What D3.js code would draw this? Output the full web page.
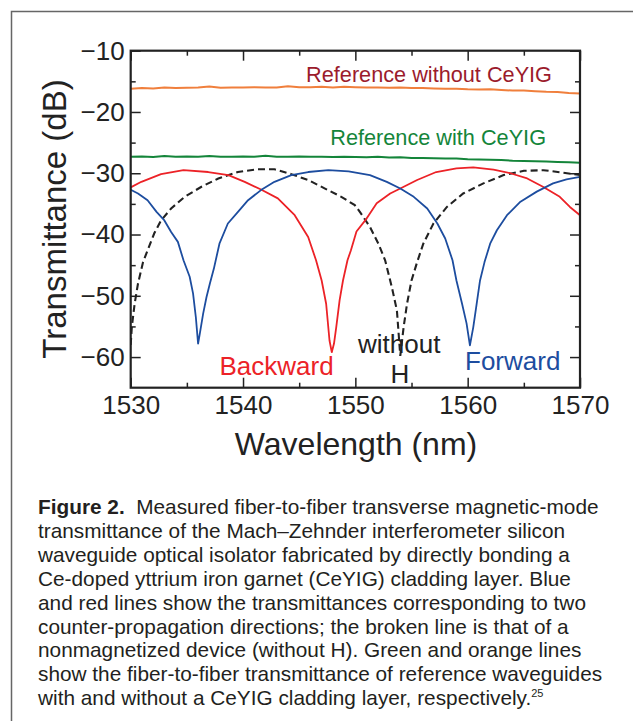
<!DOCTYPE html>
<html>
<head>
<meta charset="utf-8">
<script src="https://cdn.jsdelivr.net/npm/d3@7"></script>
<style>
  body { margin: 0; background: #fff; }
  svg { display: block; font-family: "Liberation Sans", Arial, Helvetica, sans-serif; }
</style>
</head>
<body>
<svg id="chart" width="633" height="721"></svg>
<script>
// reference waveguides, read every 1 nm
var refWl = [1530,1531,1532,1533,1534,1535,1536,1537,1538,1539,1540,1541,1542,1543,1544,1545,1546,1547,1548,1549,
             1550,1551,1552,1553,1554,1555,1556,1557,1558,1559,1560,1561,1562,1563,1564,1565,1566,1567,1568,1569,1570];
var refWithout = [-16.2,-16.1,-16.15,-16.0,-16.1,-16.05,-16.0,-15.85,-16.05,-16.0,-16.0,-15.95,-16.0,-16.0,-15.8,-15.95,
                  -15.95,-15.9,-16.0,-15.9,-15.95,-16.0,-16.0,-16.05,-16.0,-16.1,-16.1,-16.15,-16.2,-16.2,-16.3,-16.35,
                  -16.3,-16.4,-16.5,-16.5,-16.6,-16.7,-16.75,-16.9,-17.0];
var refWith = [-27.3,-27.25,-27.35,-27.2,-27.3,-27.25,-27.3,-27.2,-27.3,-27.3,-27.25,-27.3,-27.15,-27.3,-27.3,-27.25,
               -27.3,-27.3,-27.35,-27.3,-27.35,-27.4,-27.3,-27.45,-27.4,-27.5,-27.5,-27.55,-27.6,-27.6,-27.7,-27.75,
               -27.8,-27.85,-27.95,-28.0,-28.05,-28.1,-28.15,-28.2,-28.3];

// forward (blue)
var fwdWl = [1530,1530.65,1531.5,1532.3,1533,1533.6,1534.2,1534.7,1535.25,1535.55,1535.8,1536,1536.15,1536.45,1536.75,
             1537.05,1537.4,1537.9,1538.65,1539.55,1540.45,1541.6,1542.8,1544.3,1545.8,1547.6,1549.4,1551.3,1552.8,
             1554,1555.2,1556.4,1557.3,1558,1558.65,1559,1559.5,1559.9,1560.2,1560.5,1560.8,1561.1,1561.5,1562,1562.6,
             1563.5,1564.7,1566.15,1567.6,1568.8,1570];
var fwdT = [-32.7,-33.3,-34.4,-36.3,-37.7,-39.6,-41.2,-44.2,-46.9,-49.6,-53.5,-57.8,-56.2,-52.9,-50.2,
            -48.0,-45.6,-41.5,-38.2,-36.3,-34.4,-32.75,-31.4,-30.3,-29.8,-29.5,-29.7,-30.3,-31.4,
            -32.5,-33.85,-35.75,-38.2,-40.65,-44.2,-47.5,-51.3,-54.5,-58.1,-55.1,-51.3,-47.5,-44.5,-41.5,-39.3,
            -36.85,-34.65,-33.0,-31.65,-31.0,-30.6];

// backward (red)
var bwdWl = [1530,1530.95,1532.7,1534.7,1536.9,1538.7,1540.15,1541.6,1543.1,1544.6,1545.8,1546.5,1547,1547.4,1547.7,
             1547.9,1548.1,1548.3,1548.6,1548.9,1549.3,1549.6,1550.1,1551,1551.9,1553.1,1554,1555.5,1557.2,1559,
             1560.5,1562.3,1563.8,1565.3,1566.7,1568.2,1569.1,1570];
var bwdT = [-32.3,-31.4,-30.15,-29.5,-29.8,-30.3,-31.4,-32.65,-34.1,-36.85,-40.4,-44.2,-47.5,-51.3,-57.3,
            -59.2,-57.8,-55.1,-50.7,-47.5,-44.2,-42.6,-39.5,-37.4,-34.9,-33.3,-32.5,-31.1,-29.8,-29.2,
            -29.05,-29.4,-30.0,-30.85,-32.2,-33.85,-35.5,-36.85];

// without H (dashed)
var noHWl = [1530,1530.1,1530.35,1530.65,1531.1,1531.5,1532.1,1532.7,1533.6,1534.8,1536.3,1537.8,1539.55,1541.3,1542.8,
             1544.3,1545.8,1547.3,1548.75,1549.95,1550.4,1551.3,1552.05,1552.65,1553.25,1553.7,1554,1554.3,1554.6,
             1555,1555.5,1556.05,1556.95,1558.15,1559.6,1561.4,1563.2,1565,1566.75,1568.5,1570];
var noHT = [-58,-55.1,-51.3,-48.0,-44.5,-42.6,-39.8,-37.7,-35.75,-33.85,-32.2,-30.85,-29.8,-29.35,-29.35,
            -30.15,-31.1,-32.5,-33.85,-35.2,-36.3,-38.75,-41.5,-44.2,-48.6,-52.4,-59.8,-55.1,-51.3,
            -47.5,-44.5,-41.5,-38.2,-35.5,-33.3,-31.65,-30.3,-29.6,-29.5,-29.9,-30.3];

var xMajor = [1530,1540,1550,1560,1570];
var xMinor = [1535,1545,1555,1565];
var yMajor = [-60,-50,-40,-30,-20,-10];
var yMinor = [-55,-45,-35,-25,-15];

var caption = [
  "transmittance of the Mach\u2013Zehnder interferometer silicon",
  "waveguide optical isolator fabricated by directly bonding a",
  "Ce-doped yttrium iron garnet (CeYIG) cladding layer. Blue",
  "and red lines show the transmittances corresponding to two",
  "counter-propagation directions; the broken line is that of a",
  "nonmagnetized device (without H). Green and orange lines",
  "show the fiber-to-fiber transmittance of reference waveguides"
];

var svg = d3.select("#chart");

// outer frame of the figure box
svg.append("path")
  .attr("d", "M633,11.5 H11.5 V721")
  .attr("fill", "none")
  .attr("stroke", "#666")
  .attr("stroke-width", 1.5);

var margin = {left: 130.7, top: 50.7},
    width = 449.3,
    height = 337;

var x = d3.scaleLinear().domain([1530, 1570]).range([0, width]);
var y = d3.scaleLinear().domain([-65, -10]).range([height, 0]);

var g = svg.append("g")
  .attr("transform", "translate(" + margin.left + "," + margin.top + ")");

g.append("clipPath").attr("id", "clip")
  .append("rect").attr("width", width).attr("height", height);

function zip(a, b) { return a.map(function(d, i) { return [d, b[i]]; }); }

var line = d3.line()
  .x(function(d) { return x(d[0]); })
  .y(function(d) { return y(d[1]); });

var plot = g.append("g").attr("clip-path", "url(#clip)");

plot.append("path").datum(zip(refWl, refWithout))
  .attr("d", line).attr("fill", "none").attr("stroke", "#f07f3c").attr("stroke-width", 2);
plot.append("path").datum(zip(refWl, refWith))
  .attr("d", line).attr("fill", "none").attr("stroke", "#14853a").attr("stroke-width", 2);
plot.append("path").datum(zip(noHWl, noHT))
  .attr("d", line).attr("fill", "none").attr("stroke", "#222").attr("stroke-width", 2.1)
  .attr("stroke-dasharray", "7,4");
plot.append("path").datum(zip(bwdWl, bwdT))
  .attr("d", line).attr("fill", "none").attr("stroke", "#ec2227").attr("stroke-width", 1.8)
  .attr("stroke-linejoin", "round");
plot.append("path").datum(zip(fwdWl, fwdT))
  .attr("d", line).attr("fill", "none").attr("stroke", "#1d4d9f").attr("stroke-width", 1.8)
  .attr("stroke-linejoin", "round");

// axes: inward ticks on all four sides
function styleAxis(sel) {
  sel.select(".domain").remove();
  sel.selectAll("line").attr("stroke", "#222").attr("stroke-width", 1.5);
  sel.selectAll("text").attr("fill", "#222");
}

g.append("g").attr("transform", "translate(0," + height + ")")
  .call(d3.axisBottom(x).tickValues(xMajor).tickSize(-10).tickPadding(8).tickFormat(d3.format("d")))
  .call(styleAxis)
  .selectAll("text").style("font-size", "26px").style("font-family", null);
g.append("g").attr("transform", "translate(0," + height + ")")
  .call(d3.axisBottom(x).tickValues(xMinor).tickSize(-5).tickFormat(""))
  .call(styleAxis);
g.append("g")
  .call(d3.axisTop(x).tickValues(xMajor).tickSize(-10).tickFormat(""))
  .call(styleAxis);
g.append("g")
  .call(d3.axisTop(x).tickValues(xMinor).tickSize(-5).tickFormat(""))
  .call(styleAxis);

g.append("g")
  .call(d3.axisLeft(y).tickValues(yMajor).tickSize(-10).tickPadding(6))
  .call(styleAxis)
  .selectAll("text").style("font-size", "26px").style("font-family", null);
g.append("g")
  .call(d3.axisLeft(y).tickValues(yMinor).tickSize(-5).tickFormat(""))
  .call(styleAxis);
g.append("g").attr("transform", "translate(" + width + ",0)")
  .call(d3.axisRight(y).tickValues(yMajor).tickSize(-10).tickFormat(""))
  .call(styleAxis);
g.append("g").attr("transform", "translate(" + width + ",0)")
  .call(d3.axisRight(y).tickValues(yMinor).tickSize(-5).tickFormat(""))
  .call(styleAxis);

g.append("rect")
  .attr("width", width).attr("height", height)
  .attr("fill", "none").attr("stroke", "#222").attr("stroke-width", 2.2);

// axis titles
svg.append("text")
  .attr("x", 356).attr("y", 455)
  .attr("text-anchor", "middle")
  .attr("fill", "#222")
  .style("font-size", "32px")
  .text("Wavelength (nm)");

svg.append("text")
  .attr("transform", "translate(66,219) rotate(-90)")
  .attr("text-anchor", "middle")
  .attr("fill", "#222")
  .style("font-size", "33px")
  .text("Transmittance (dB)");

// curve labels
var labels = [
  {t: "Reference without CeYIG", x: 552, y: 81.7, a: "end", c: "#9b1b2c", s: 21.7},
  {t: "Reference with CeYIG", x: 546, y: 145, a: "end", c: "#14853a", s: 21.7},
  {t: "Backward", x: 219.5, y: 375, a: "start", c: "#ec2227", s: 26},
  {t: "without", x: 358, y: 353.3, a: "start", c: "#222", s: 26},
  {t: "H", x: 400, y: 383.3, a: "middle", c: "#222", s: 26},
  {t: "Forward", x: 465, y: 370, a: "start", c: "#1d4d9f", s: 26}
];
svg.selectAll(".lbl").data(labels).enter().append("text")
  .attr("class", "lbl")
  .attr("x", function(d) { return d.x; })
  .attr("y", function(d) { return d.y; })
  .attr("text-anchor", function(d) { return d.a; })
  .attr("fill", function(d) { return d.c; })
  .style("font-size", function(d) { return d.s + "px"; })
  .text(function(d) { return d.t; });

// caption
var lineH = 23.9;
var cap = svg.append("g").attr("fill", "#231f20").style("font-size", "20.8px");
var first = cap.append("text").attr("x", 38).attr("y", 514).attr("xml:space", "preserve");
first.append("tspan").style("font-weight", "bold").text("Figure 2.");
first.append("tspan").text("  Measured fiber-to-fiber transverse magnetic-mode");

cap.selectAll(".cl").data(caption).enter().append("text")
  .attr("class", "cl")
  .attr("x", 38)
  .attr("y", function(d, i) { return 514 + (i + 1) * lineH; })
  .text(function(d) { return d; });

var last = cap.append("text").attr("x", 38).attr("y", 514 + 8 * lineH);
last.append("tspan").text("with and without a CeYIG cladding layer, respectively.");
last.append("tspan").attr("dy", -8).style("font-size", "11px").text("25");
</script>
</body>
</html>
